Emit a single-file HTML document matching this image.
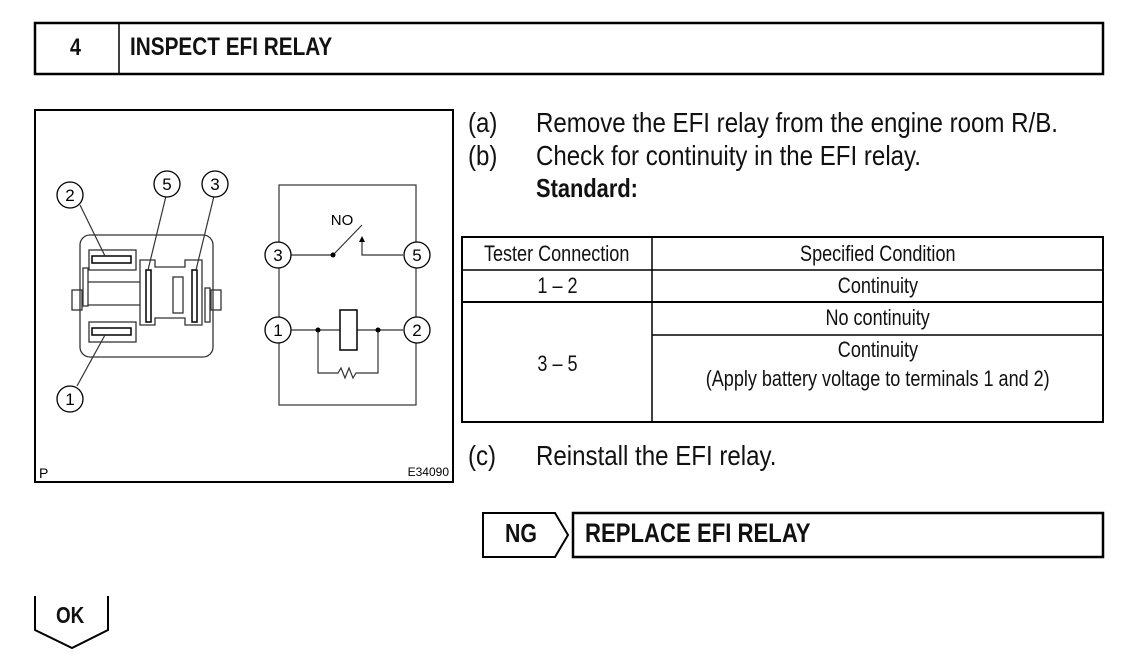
<!DOCTYPE html>
<html><head><meta charset="utf-8"><style>
body{margin:0;width:1129px;height:665px;background:#fff;position:relative;overflow:hidden;font-family:"Liberation Sans",Arial,sans-serif;color:#111}
.a{position:absolute;white-space:nowrap}
.n{display:inline-block;transform:scaleX(.82);transform-origin:left center}
.m{display:inline-block;transform:scaleX(.86);transform-origin:left center}
.t{display:inline-block;transform:scaleX(.82);transform-origin:center}
.c{position:absolute;white-space:nowrap;text-align:center;font-size:22px;line-height:24px}
</style></head><body>
<svg width="1129" height="665" style="position:absolute;left:0;top:0" font-family="Liberation Sans, sans-serif">
<rect x="35" y="23" width="1068" height="51" fill="none" stroke="#000" stroke-width="2.5"/>
<line x1="119" y1="23" x2="119" y2="74" stroke="#000" stroke-width="1.5"/>
<rect x="35" y="110" width="418" height="372" fill="none" stroke="#000" stroke-width="2"/>
<g fill="none" stroke="#333" stroke-width="1.3">
<rect x="80" y="235" width="133" height="122" rx="10"/>
<rect x="72" y="290" width="10" height="20"/><rect x="211" y="290" width="10" height="20"/>
<rect x="83" y="268" width="5" height="38"/><rect x="205" y="288" width="5" height="34"/>
<line x1="88" y1="282" x2="140" y2="282"/><line x1="88" y1="305" x2="140" y2="305"/>
<rect x="89" y="250" width="47" height="20"/><rect x="89" y="322" width="47" height="20"/>
<path d="M140 260 H155 V267 H185 V260 H202 V325 H185 V318 H155 V325 H140 Z"/>
<rect x="173" y="277" width="10" height="36"/>
</g>
<g fill="#fff" stroke="#000" stroke-width="1.5">
<rect x="92" y="256" width="39" height="7"/><rect x="92" y="328" width="39" height="7"/>
<rect x="146" y="270" width="5" height="52"/><rect x="192" y="270" width="5" height="52"/>
</g>
<g stroke="#333" stroke-width="1.2" fill="none">
<line x1="80" y1="205" x2="105" y2="256"/><line x1="166" y1="196" x2="148" y2="270"/>
<line x1="214" y1="196" x2="196" y2="270"/><line x1="77" y1="386" x2="105" y2="335"/>
<rect x="279" y="185" width="137" height="220"/>
<line x1="290" y1="255" x2="333" y2="255"/><line x1="333" y1="255" x2="362" y2="225"/>
<path d="M362 241 V255 H403"/>
<line x1="290" y1="330" x2="340" y2="330"/><line x1="357" y1="330" x2="403" y2="330"/>
<path d="M318 330 V373 H338 l3 -5 l4 10 l4 -10 l4 10 l3 -5 H378 V330"/>
</g>
<path d="M362 236 l-3 6 h6 z" fill="#000"/>
<rect x="340" y="310" width="17" height="40" fill="#fff" stroke="#000" stroke-width="1.5"/>
<circle cx="333" cy="255" r="2.5" fill="#000"/><circle cx="318" cy="330" r="2.5" fill="#000"/><circle cx="378" cy="330" r="2.5" fill="#000"/>
<g fill="#fff" stroke="#000" stroke-width="1.3">
<circle cx="70" cy="195" r="13"/><circle cx="167" cy="184" r="13"/><circle cx="215" cy="184" r="13"/><circle cx="70" cy="399" r="13"/>
<circle cx="278" cy="255" r="13"/><circle cx="417" cy="255" r="13"/><circle cx="278" cy="330" r="13"/><circle cx="417" cy="330" r="13"/>
</g>
<g font-size="17" text-anchor="middle" fill="#000">
<text x="70" y="201">2</text><text x="167" y="190">5</text><text x="215" y="190">3</text><text x="70" y="405">1</text>
<text x="278" y="261">3</text><text x="417" y="261">5</text><text x="278" y="336">1</text><text x="417" y="336">2</text>
<text x="342" y="225" font-size="15">NO</text>
</g>
<text x="39" y="478" font-size="14">P</text>
<text x="449" y="476" font-size="12" text-anchor="end">E34090</text>
<g stroke="#000" fill="none">
<rect x="462" y="237" width="641" height="185" stroke-width="2"/>
<line x1="652" y1="237" x2="652" y2="422" stroke-width="1.5"/>
<line x1="462" y1="270" x2="1103" y2="270" stroke-width="1.5"/>
<line x1="462" y1="302" x2="1103" y2="302" stroke-width="2"/>
<line x1="652" y1="335" x2="1103" y2="335" stroke-width="1.5"/>
</g>
<path d="M483 513 H555 L568 535 L555 557 H483 Z" fill="none" stroke="#000" stroke-width="2"/>
<rect x="573" y="513" width="530" height="44" fill="none" stroke="#000" stroke-width="2.5"/>
<path d="M35 596 V630 L72 648 L108 630 V596" fill="none" stroke="#000" stroke-width="2"/>
</svg>
<div class="a" style="left:70px;top:34px;font-size:24px;font-weight:bold"><span class="n">4</span></div>
<div class="a" style="left:130px;top:33px;font-size:25px;font-weight:bold"><span class="n" style="transform:scaleX(.83)">INSPECT EFI RELAY</span></div>
<div class="a" style="left:468px;top:107px;font-size:28px"><span class="m">(a)</span></div>
<div class="a" style="left:536px;top:107px;font-size:28px"><span class="m">Remove the EFI relay from the engine room R/B.</span></div>
<div class="a" style="left:468px;top:140px;font-size:28px"><span class="m">(b)</span></div>
<div class="a" style="left:536px;top:140px;font-size:28px"><span class="m">Check for continuity in the EFI relay.</span></div>
<div class="a" style="left:536px;top:173px;font-size:26px;font-weight:bold"><span class="m" style="transform:scaleX(.84)">Standard:</span></div>
<div class="c" style="left:462px;top:242px;width:190px"><span class="t">Tester Connection</span></div>
<div class="c" style="left:652px;top:242px;width:451px"><span class="t">Specified Condition</span></div>
<div class="c" style="left:462px;top:274px;width:190px"><span class="t">1 – 2</span></div>
<div class="c" style="left:652px;top:274px;width:451px"><span class="t">Continuity</span></div>
<div class="c" style="left:652px;top:306px;width:451px"><span class="t">No continuity</span></div>
<div class="c" style="left:462px;top:352px;width:190px"><span class="t">3 – 5</span></div>
<div class="c" style="left:652px;top:338px;width:451px"><span class="t">Continuity</span></div>
<div class="c" style="left:652px;top:367px;width:451px"><span class="t">(Apply battery voltage to terminals 1 and 2)</span></div>
<div class="a" style="left:468px;top:440px;font-size:28px"><span class="m">(c)</span></div>
<div class="a" style="left:536px;top:440px;font-size:28px"><span class="m">Reinstall the EFI relay.</span></div>
<div class="a" style="left:505px;top:518px;font-size:26px;font-weight:bold"><span class="n" style="transform:scaleX(.82)">NG</span></div>
<div class="a" style="left:585px;top:518px;font-size:27px;font-weight:bold"><span class="n" style="transform:scaleX(.82)">REPLACE EFI RELAY</span></div>
<div class="a" style="left:56px;top:602px;font-size:23px;font-weight:bold"><span class="n" style="transform:scaleX(.82)">OK</span></div>
</body></html>
